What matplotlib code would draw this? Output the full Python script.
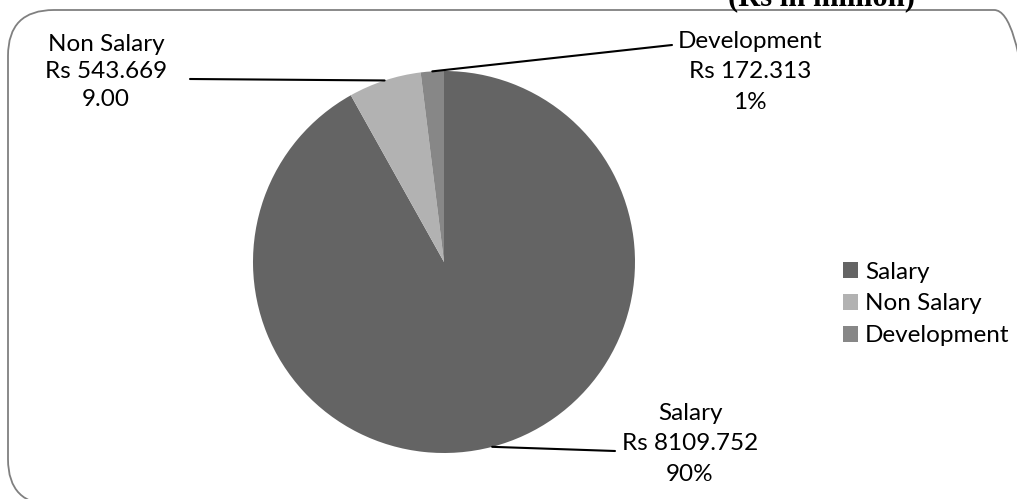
import matplotlib.pyplot as plt, numpy as np
from matplotlib.patches import FancyBboxPatch

# data
labels = ["Salary", "Non Salary", "Development"]
values = [8109.752, 543.669, 172.313]
pct_text = ["90%", "9.00", "1%"]
colors = ["#646464", "#b2b2b2", "#878787"]

W, H = 1017, 499
fig = plt.figure(figsize=(W / 100, H / 100), dpi=100)
plt.rcParams['font.family'] = ['Lato', 'DejaVu Sans']

def px(x, y):
	# pixel (from top-left) -> figure fraction
	return (x / W, 1 - y / H)

# rounded frame, clipped at right and bottom like the original
frame = FancyBboxPatch(px(8, 505), (1040 - 8) / W, (505 - 10) / H,
	boxstyle="round,pad=0,rounding_size=0.045", transform=fig.transFigure,
	facecolor='none', edgecolor='#808080', linewidth=1.3, mutation_aspect=W / H, zorder=-1)
fig.patches.append(frame)

# pie axes: centre (444,262), radius 191 px
cx, cy, r = 444, 262, 191
ax = fig.add_axes([(cx - r) / W, (H - cy - r) / H, 2 * r / W, 2 * r / H])
wedges, _ = ax.pie(values, colors=colors, startangle=90, counterclock=False, radius=1)
ax.set_xlim(-1, 1); ax.set_ylim(-1, 1)
ax.set_aspect('equal')
ax.axis('off')

# label positions (pixels) and leader line ends next to the text
text_pos = [(690, 444), (106, 72), (750, 72)]
line_end = [(615, 451), (190, 79), (672, 45)]
spacing = [1.58, 1.4, 1.58]
fs = 17.5
for w, lab, v, p, tp, le, ls in zip(wedges, labels, values, pct_text, text_pos, line_end, spacing):
	ang = np.deg2rad((w.theta1 + w.theta2) / 2)
	edge = (np.cos(ang), np.sin(ang))
	fig.text(*px(*tp), f"{lab}\nRs {v}\n{p}", ha='center', va='center',
		fontsize=fs, linespacing=ls, color='black')
	ax.annotate('', xy=edge, xycoords='data', xytext=px(*le), textcoords='figure fraction',
		arrowprops=dict(arrowstyle='-', color='black', lw=1.5, shrinkA=0, shrinkB=0),
		annotation_clip=False)

# legend
leg = fig.legend(wedges, labels, loc='center left', bbox_to_anchor=px(843, 304),
	frameon=False, fontsize=fs, handlelength=0.6, handleheight=0.6,
	handletextpad=0.3, labelspacing=0.45, borderpad=0, borderaxespad=0)

# clipped title at the top
fig.text(*px(822, 5), "(Rs in million)", ha='center', va='baseline',
	fontsize=22, fontweight='bold', family=['Liberation Serif', 'DejaVu Serif'])

fig.savefig("out.png", dpi=100)
